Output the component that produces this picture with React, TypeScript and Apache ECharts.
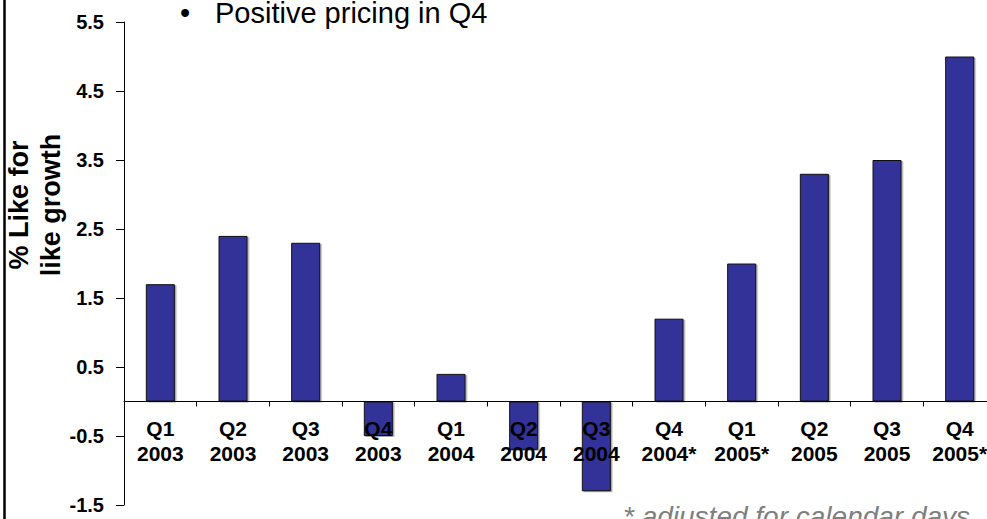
import React, { useEffect, useRef } from "react";
import * as echarts from "echarts";

const categories = [
  "Q1\n2003", "Q2\n2003", "Q3\n2003", "Q4\n2003",
  "Q1\n2004", "Q2\n2004", "Q3\n2004", "Q4\n2004*",
  "Q1\n2005*", "Q2\n2005", "Q3\n2005", "Q4\n2005*",
];
const growth = [1.7, 2.4, 2.3, -0.5, 0.4, -0.7, -1.3, 1.2, 2.0, 3.3, 3.5, 5.0];
const yTicks = [-1.5, -0.5, 0.5, 1.5, 2.5, 3.5, 4.5, 5.5];
const yMin = -1.5;
const yMax = 5.5;
const titleText = "Positive pricing in Q4";
const yTitle = "% Like for\nlike growth";
const footnote = "* adjusted for calendar days";

const FONT = '"Liberation Sans", Arial, sans-serif';

const GRID_TOP = 22;
const GRID_BOTTOM = 14;
const H = 519;

export default function App() {
  const ref = useRef<HTMLDivElement>(null);
  useEffect(() => {
    if (!ref.current) return;
    const chart = echarts.init(ref.current, null, { renderer: "svg" });
    const plotH = H - GRID_TOP - GRID_BOTTOM;
    // distance from the grid bottom up to the zero line, via the axis scale
    const zeroOffset = (plotH * (0 - yMin)) / (yMax - yMin);
    chart.setOption({
      animation: false,
      backgroundColor: "#ffffff",
      grid: {
        left: 124,
        right: -9,
        top: GRID_TOP,
        bottom: GRID_BOTTOM,
        containLabel: false,
        outerBoundsMode: "none",
      },
      xAxis: {
        type: "category",
        data: categories,
        position: "bottom",
        offset: -zeroOffset,
        z: 5,
        axisLine: { show: true, onZero: false, lineStyle: { color: "#000", width: 1 } },
        axisTick: { show: true, length: 5, lineStyle: { color: "#000" } },
        axisLabel: {
          color: "#000",
          fontFamily: FONT,
          fontWeight: "bold",
          fontSize: 21,
          lineHeight: 25,
          margin: 14,
          interval: 0,
          hideOverlap: false,
        },
        splitLine: { show: false },
      },
      yAxis: {
        type: "value",
        min: yMin,
        max: yMax,
        axisLine: { show: true, onZero: false, lineStyle: { color: "#000", width: 1 } },
        axisTick: { show: true, length: 8, customValues: yTicks, lineStyle: { color: "#000" } },
        axisLabel: {
          customValues: yTicks,
          color: "#000",
          fontFamily: FONT,
          fontWeight: "bold",
          fontSize: 20,
          margin: 20,
          formatter: (v: number) => v.toFixed(1),
        },
        splitLine: { show: false },
      },
      series: [
        {
          type: "bar",
          data: growth,
          barWidth: 29,
          z: 2,
          itemStyle: {
            color: "#333399",
            borderColor: "#111",
            borderWidth: 1,
            shadowColor: "rgba(0,0,0,0.35)",
            shadowOffsetX: 1.5,
            shadowOffsetY: 1,
            shadowBlur: 0,
          },
        },
      ],
      graphic: [
        {
          type: "line",
          shape: { x1: 4.5, y1: 0, x2: 4.5, y2: 519 },
          style: { stroke: "#000", lineWidth: 2.5 },
        },
        {
          type: "text",
          x: 180,
          y: 13,
          style: { text: "•", font: `29px ${FONT}`, fill: "#000", align: "left", verticalAlign: "middle" },
        },
        {
          type: "text",
          x: 215,
          y: 13,
          style: { text: titleText, font: `29px ${FONT}`, fill: "#000", align: "left", verticalAlign: "middle" },
        },
        {
          type: "text",
          x: 35,
          y: 205,
          rotation: Math.PI / 2,
          style: {
            text: yTitle,
            font: `bold 27px ${FONT}`,
            lineHeight: 32,
            fill: "#000",
            align: "center",
            verticalAlign: "middle",
          },
        },
        {
          type: "text",
          x: 623,
          y: 516,
          style: { text: footnote, font: `italic 28px ${FONT}`, fill: "#7f7f7f", align: "left", verticalAlign: "middle" },
        },
      ],
    });
    return () => chart.dispose();
  }, []);
  return (
    <div
      ref={ref}
      style={{ position: "fixed", left: 0, top: 0, width: 987, height: 519, background: "#fff" }}
    />
  );
}
